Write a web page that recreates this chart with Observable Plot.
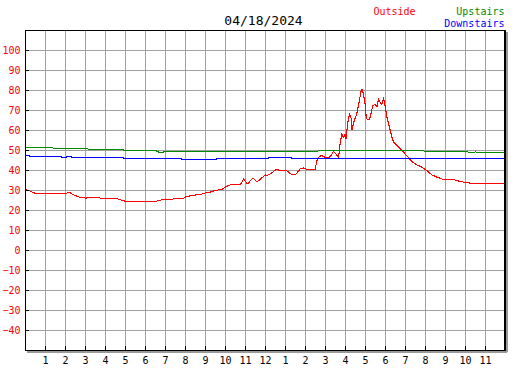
<!DOCTYPE html>
<html><head><meta charset="utf-8">
<script src="https://cdn.jsdelivr.net/npm/d3@7"></script>
<script src="https://cdn.jsdelivr.net/npm/@observablehq/plot@0.6"></script>
<style>html,body{margin:0;padding:0;background:#fff}svg{display:block}</style>
</head><body><div id="chart"></div>
<script>
const title = "04/18/2024";
const seriesNames = ["Outside", "Upstairs", "Downstairs"];
const seriesColors = ["#ff0000", "#008c00", "#0000ff"];
const hourTicks = [1,2,3,4,5,6,7,8,9,10,11,12,13,14,15,16,17,18,19,20,21,22,23];
const hourLabels = ["1","2","3","4","5","6","7","8","9","10","11","12","1","2","3","4","5","6","7","8","9","10","11"];
const tempTicks = [-40,-30,-20,-10,0,10,20,30,40,50,60,70,80,90,100];

const outsideHour = [0,0.15,0.3,0.45,0.55,2.0,2.1,2.25,2.4,2.65,3.0,3.35,3.65,3.75,4.55,4.75,5.05,6.45,6.6,6.8,7.3,7.4,7.9,8.05,8.4,8.8,9.05,9.3,9.45,9.8,10.0,10.15,10.3,10.6,10.74,10.82,10.9,11.1,11.37,11.57,11.73,11.98,12.07,12.23,12.4,12.57,12.73,12.9,12.98,13.15,13.32,13.48,13.57,13.73,13.9,14.07,14.48,14.57,14.7,14.82,14.98,15.15,15.27,15.4,15.53,15.65,15.73,15.82,15.9,15.98,16.03,16.1,16.2,16.29,16.32,16.44,16.54,16.65,16.77,16.82,16.9,16.99,17.04,17.2,17.27,17.37,17.49,17.57,17.65,17.73,17.82,17.9,17.99,18.07,18.2,18.32,18.4,18.57,18.74,18.9,19.07,19.32,19.57,19.82,20.07,20.32,20.57,20.9,21.4,21.73,22.15,22.57,23.95];
const outsideTemp = [30.5,30,29.4,28.8,28.3,28.3,29,28.8,27.8,26.8,26.2,26.7,26.7,26.0,26.0,25.3,24.5,24.4,24.8,25.3,25.3,25.9,26.0,27.0,27.6,28.2,29.0,29.3,30.0,30.5,31.7,32.5,33.0,33.2,32.8,34.2,35.8,33.3,36.2,34.2,35.5,37.8,37.5,38.3,39.5,40.8,39.8,39.8,40.3,39.2,37.8,37.8,38.8,40.8,41.3,40.5,40.5,45,47,47.5,46.5,46.2,47.5,49.5,48.3,46.3,53.3,58.3,56.3,58,55.8,63.3,68.3,65.8,60.3,65,67.5,72.5,79.2,80.8,78.3,72.5,65.8,65.5,68.3,72.5,73,71.7,75.8,74.2,73,76.3,71.7,66.7,61.7,56.7,54.2,52.5,50.8,49.2,47.3,44.5,42.8,41.7,40,37.8,36.7,35.5,35.5,34.5,33.8,33.3,33.3];

const upstairsHour = [0,1.35,1.42,3.12,3.17,4.9,4.95,6.55,6.6,6.85,6.9,9.8,9.85,14.6,14.65,19.9,19.95,22.1,22.15,22.45,22.5,22.55,23.95];
const upstairsTemp = [51.5,51.5,50.8,50.8,50.3,50.3,49.8,49.8,49.3,49.0,49.3,49.3,49.6,49.6,50,50,49.5,49.5,49,49,49.4,49,49];

const downstairsHour = [0,0.2,0.25,1.8,1.85,2.0,2.05,2.3,2.35,4.9,4.95,7.8,7.85,9.5,9.55,12.1,12.15,13.3,13.35,16.55,16.6,23.95];
const downstairsTemp = [47.3,47.3,46.8,46.8,46.3,46.3,46.8,46.8,46.3,46.3,45.8,45.8,45.3,45.3,45.8,45.8,46.3,46.3,45.8,45.8,46.2,46.2];

const toRows = (hs, vs) => hs.map((h, i) => ({h, v: vs[i]}));
const series = [toRows(outsideHour, outsideTemp), toRows(upstairsHour, upstairsTemp), toRows(downstairsHour, downstairsTemp)];

const mono = "DejaVu Sans Mono";
const chart = Plot.plot({
  width: 527, height: 370,
  marginLeft: 25, marginRight: 22, marginTop: 30, marginBottom: 20,
  style: {fontFamily: mono, fontSize: "10px", background: "#fff", color: "#000"},
  x: {domain: [0, 24], label: null},
  y: {domain: [-50, 110], label: null},
  marks: [
    Plot.gridX(hourTicks, {stroke: "#a0a0a0", strokeOpacity: 1, shapeRendering: "crispEdges"}),
    Plot.gridY(tempTicks, {stroke: "#a0a0a0", strokeOpacity: 1, shapeRendering: "crispEdges"}),
    // shadow
    Plot.ruleX([24], {stroke: "#9a9a9a", strokeWidth: 2, dx: 1.5, dy: 2, shapeRendering: "crispEdges"}),
    Plot.ruleY([-50], {stroke: "#9a9a9a", strokeWidth: 2, dx: 2, dy: 1.5, shapeRendering: "crispEdges"}),
    // lines
    ...series.map((rows, i) => Plot.line(rows, {x: "h", y: "v", stroke: seriesColors[i], strokeWidth: 1.1, shapeRendering: "crispEdges"})),
    Plot.frame({stroke: "#000", shapeRendering: "crispEdges"}),
    Plot.ruleX([24], {stroke: "#000", strokeWidth: 2, dx: -0.5, shapeRendering: "crispEdges"}),
    // inner ticks
    Plot.axisY(tempTicks, {tickSize: 4, dx: 4, tickFormat: () => "", color: "#000", label: null}),
    Plot.axisX(hourTicks, {tickSize: 4, dy: -4, tickFormat: () => "", color: "#000", label: null}),
    // labels
    Plot.axisY(tempTicks, {tickSize: 0, tickPadding: 5, color: "#ff0000", fontSize: 10, label: null}),
    Plot.axisX(hourTicks, {tickSize: 0, tickPadding: 6, tickFormat: (d, i) => hourLabels[i], color: "#000", fontSize: 10, label: null}),
    // title & legend
    Plot.text([title], {frameAnchor: "top", dx: -2, dy: -15, fontSize: 13, fill: "#000"}),
    Plot.text([seriesNames[0]], {frameAnchor: "top-right", textAnchor: "start", dx: -132, dy: -23, fill: seriesColors[0], fontSize: 10}),
    Plot.text([seriesNames[1]], {frameAnchor: "top-right", textAnchor: "end", dx: -1, dy: -23, fill: seriesColors[1], fontSize: 10}),
    Plot.text([seriesNames[2]], {frameAnchor: "top-right", textAnchor: "end", dx: -1, dy: -11, fill: seriesColors[2], fontSize: 10})
  ]
});
document.getElementById("chart").appendChild(chart);
</script>
</body></html>
